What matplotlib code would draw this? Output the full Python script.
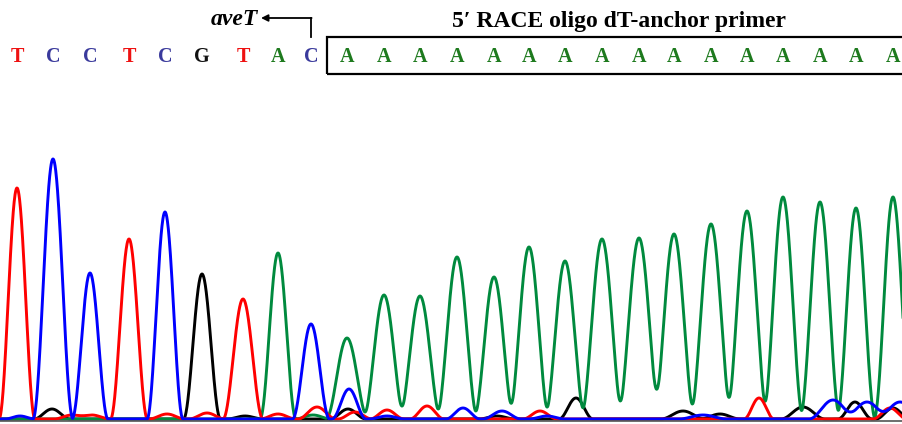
import numpy as np
import matplotlib
matplotlib.use("Agg")
import matplotlib.pyplot as plt
from matplotlib.patches import Rectangle

# called bases with peak position (scan), peak height and half base width
bases = ["T", "C", "C", "T", "C", "G", "T", "A", "C",
         "A", "A", "A", "A", "A", "A", "A", "A", "A", "A", "A", "A", "A", "A", "A", "A"]
peak_pos = [17, 53, 90, 129, 165, 202, 243, 278, 311,
            347, 384, 420, 457, 494, 529, 565, 602, 639, 674, 711, 747, 783, 820, 856, 893]
peak_height = [231, 260, 146, 180, 207, 145, 120, 166, 95,
               81, 124, 123, 162, 142, 172, 158, 180, 181, 185, 195, 208, 222, 217, 211, 222]
peak_width = [18, 20, 18, 18.5, 18, 18.5, 20, 18, 18.5,
              21.1, 21.0, 21.2, 20.9, 20.4, 20.5, 20.5, 21.4, 21.8, 21.1, 21.3, 21.0, 20.4, 20.2, 19.4, 19.0]

# background (noise) peaks per dye: (position, height, half width)
noise = {
    "G": [(52, 10, 18), (245, 3, 18), (348, 10, 18), (497, 3, 18), (576, 21, 17), (683, 8, 22),
          (720, 5, 20), (803, 12, 22), (855, 17, 17), (893, 11, 17)],
    "T": [(72, 4, 18), (92, 4, 18), (167, 5, 18), (207, 6, 18), (278, 5, 18), (317, 12, 19),
          (355, 7, 17), (387, 9, 17), (427, 13, 17), (540, 8, 17), (759, 21, 15), (890, 11, 17)],
    "C": [(20, 3, 15), (349, 30, 17), (387, 3, 18), (463, 11, 17), (502, 8, 19), (547, 3, 18),
          (703, 4, 24), (833, 19, 24), (867, 17, 24), (900, 17, 24)],
    "A": [(313, 4, 18)],
}

trace_colors = {"A": "#008a3e", "C": "#0000ff", "G": "#000000", "T": "#ff0000"}
text_colors = {"A": "#1e7a1e", "C": "#3a3a9c", "G": "#111111", "T": "#ee1111"}


def peak(x, p, h, w):
    d = np.clip(np.abs(x - p) / w, 0, 1)
    return h * np.cos(np.pi * d / 2) ** 2


fig = plt.figure(figsize=(9.03, 4.24), dpi=100)
ax = fig.add_axes([0, 0, 1, 1])
ax.set_xlim(0, 903)
ax.set_ylim(-5, 419)
ax.axis("off")

x = np.linspace(0, 903, 3000)
traces = {b: np.zeros_like(x) for b in "ACGT"}
for b, p, h, w in zip(bases, peak_pos, peak_height, peak_width):
    traces[b] += peak(x, p, h, w)
for b, lst in noise.items():
    for p, h, w in lst:
        traces[b] += peak(x, p, h, w)

for b in ["G", "A", "T", "C"]:
    ax.plot(x, traces[b], color=trace_colors[b], lw=2.1, solid_joinstyle="round")
ax.axhline(-2, color="#555555", lw=1.2)

# base calls
serif = ["Liberation Serif", "DejaVu Serif"]
for b, p in zip(bases, peak_pos):
    ax.text(p, 357, b, color=text_colors[b], ha="center", va="baseline",
            family=serif, weight="bold", fontsize=14.5)

# primer box (open on the right)
ax.add_patch(Rectangle((327, 345), 600, 37, fill=False, lw=1.6, ec="black", clip_on=True))
ax.text(619, 392, "5\u2032 RACE oligo dT-anchor primer", ha="center", va="baseline",
        color="black", family=serif, weight="bold", fontsize=17)

# aveT arrow
ax.plot([311, 311], [382, 401], color="black", lw=1.3)
ax.annotate("", xy=(261, 401), xytext=(311.6, 401),
            arrowprops=dict(arrowstyle="-|>", color="black", lw=1.3, mutation_scale=10,
                            shrinkA=0, shrinkB=0))
ax.text(258, 394, "aveT", ha="right", va="baseline", style="italic", color="black",
        family=serif, weight="bold", fontsize=17)

fig.savefig("out.png", dpi=100)
